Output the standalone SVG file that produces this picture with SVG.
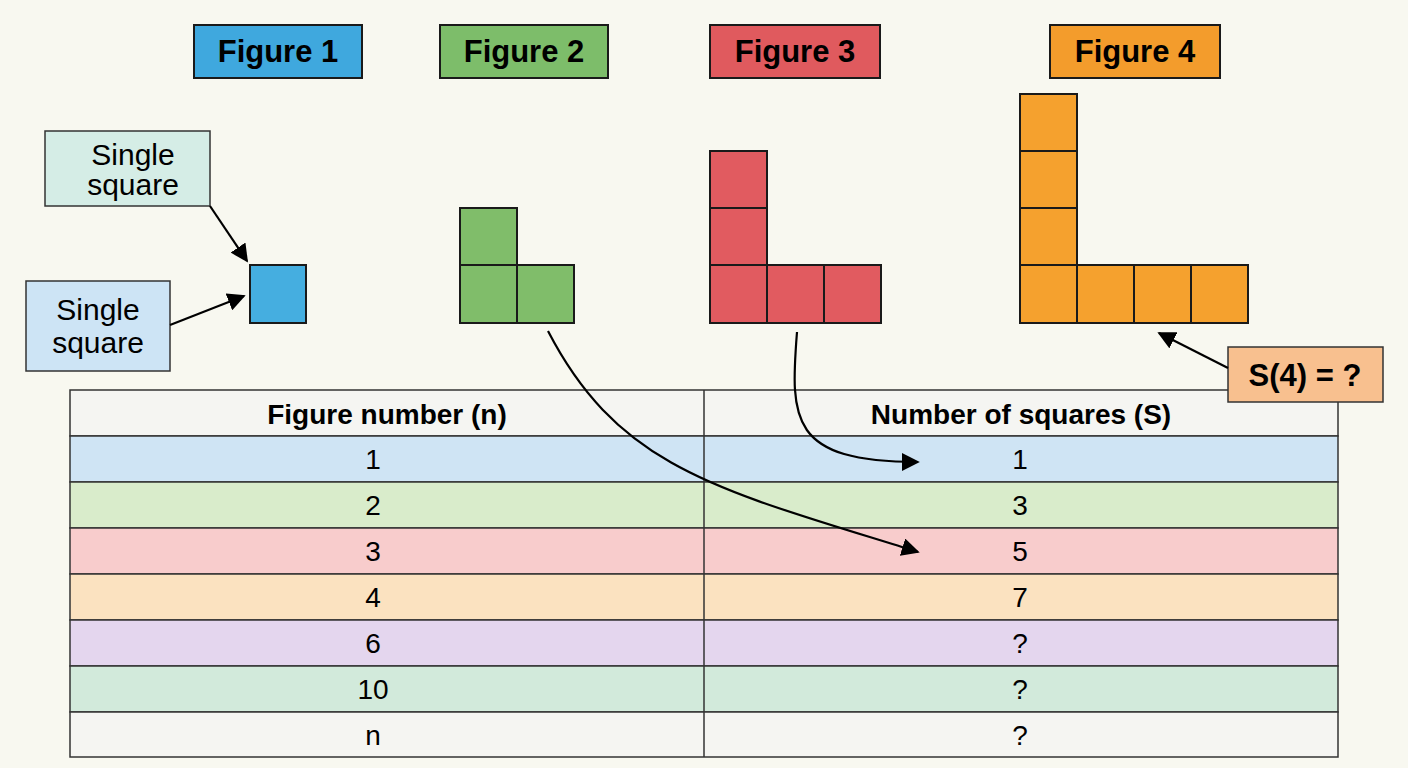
<svg xmlns="http://www.w3.org/2000/svg" width="1408" height="768" viewBox="0 0 1408 768">
<defs>
<marker id="ah2" viewBox="0 0 10 10" refX="9" refY="5" markerWidth="18" markerHeight="18" orient="auto" markerUnits="userSpaceOnUse"><path d="M0,0 L10,5 L0,10 Z" fill="#000"/></marker>
</defs>
<style>
.t{font-family:"Liberation Sans",Arial,sans-serif;fill:#000}
.lbl{font-size:31px;font-weight:bold}
.cell{stroke:#1a1a1a;stroke-width:2}
.row{stroke:#333;stroke-width:1.5}
.td{font-size:28px;text-anchor:middle}
.cn{fill:none;stroke:#000;stroke-width:2.2}
</style>
<rect width="1408" height="768" fill="#f8f8f0"/>
<g id="fig1">
<rect x="194" y="25" width="168" height="53" fill="#3fa8de" class="cell"/>
<text x="278" y="62" class="t lbl" text-anchor="middle">Figure 1</text>
<rect x="250" y="265" width="56" height="58" fill="#45aee0" class="cell"/>
</g>
<g id="fig2">
<rect x="440" y="25" width="168" height="53" fill="#7dbd6a" class="cell"/>
<text x="524" y="62" class="t lbl" text-anchor="middle">Figure 2</text>
<g fill="#80bd6a" class="cell"><rect x="460" y="208" width="57" height="57"/><rect x="460" y="265" width="57" height="58"/><rect x="517" y="265" width="57" height="58"/></g>
</g>
<g id="fig3">
<rect x="710" y="25" width="170" height="53" fill="#e05a5e" class="cell"/>
<text x="795" y="62" class="t lbl" text-anchor="middle">Figure 3</text>
<g fill="#e15b60" class="cell"><rect x="710" y="151" width="57" height="57"/><rect x="710" y="208" width="57" height="57"/><rect x="710" y="265" width="57" height="58"/><rect x="767" y="265" width="57" height="58"/><rect x="824" y="265" width="57" height="58"/></g>
</g>
<g id="fig4">
<rect x="1050" y="25" width="170" height="53" fill="#f39c2c" class="cell"/>
<text x="1135" y="62" class="t lbl" text-anchor="middle">Figure 4</text>
<g fill="#f5a12e" class="cell"><rect x="1020" y="94" width="57" height="57"/><rect x="1020" y="151" width="57" height="57"/><rect x="1020" y="208" width="57" height="57"/><rect x="1020" y="265" width="57" height="58"/><rect x="1077" y="265" width="57" height="58"/><rect x="1134" y="265" width="57" height="58"/><rect x="1191" y="265" width="57" height="58"/></g>
</g>
<g id="callout1">
<rect x="45" y="131" width="165" height="75" fill="#d5ede6" class="row"/>
<text class="t" font-size="30" text-anchor="middle"><tspan x="133" y="165">Single</tspan><tspan x="133" y="195">square</tspan></text>
</g>
<g id="callout2">
<rect x="26" y="281" width="144" height="90" fill="#cde4f5" class="row"/>
<text class="t" font-size="30" text-anchor="middle"><tspan x="98" y="320">Single</tspan><tspan x="98" y="353">square</tspan></text>
</g>
<g id="table">
<rect x="70" y="390" width="1268" height="46" fill="#f5f5f2" class="row"/>
<rect x="70" y="436" width="1268" height="46" fill="#cfe4f4" class="row"/>
<rect x="70" y="482" width="1268" height="46" fill="#d9eccb" class="row"/>
<rect x="70" y="528" width="1268" height="46" fill="#f8cccc" class="row"/>
<rect x="70" y="574" width="1268" height="46" fill="#fbe2c0" class="row"/>
<rect x="70" y="620" width="1268" height="46" fill="#e4d6ee" class="row"/>
<rect x="70" y="666" width="1268" height="46" fill="#d2eadb" class="row"/>
<rect x="70" y="712" width="1268" height="45" fill="#f5f5f2" class="row"/>
<line x1="704" y1="390" x2="704" y2="757" class="row"/>
<text x="387" y="424" class="t td" font-weight="bold" font-size="30">Figure number (n)</text>
<text x="1021" y="424" class="t td" font-weight="bold" font-size="30">Number of squares (S)</text>
<text x="373" y="469" class="t td">1</text><text x="1020" y="469" class="t td">1</text>
<text x="373" y="515" class="t td">2</text><text x="1020" y="515" class="t td">3</text>
<text x="373" y="561" class="t td">3</text><text x="1020" y="561" class="t td">5</text>
<text x="373" y="607" class="t td">4</text><text x="1020" y="607" class="t td">7</text>
<text x="373" y="653" class="t td">6</text><text x="1020" y="653" class="t td">?</text>
<text x="373" y="699" class="t td">10</text><text x="1020" y="699" class="t td">?</text>
<text x="373" y="745" class="t td">n</text><text x="1020" y="745" class="t td">?</text>
</g>
<g id="callout3">
<rect x="1228" y="347" width="155" height="55" fill="#f8c08f" class="row"/>
<text x="1305" y="386" class="t lbl" text-anchor="middle">S(4) = ?</text>
</g>
<g id="connectors">
<line x1="210" y1="206" x2="247" y2="261" class="cn" marker-end="url(#ah2)"/>
<line x1="170" y1="325" x2="244" y2="296" class="cn" marker-end="url(#ah2)"/>
<line x1="1228" y1="368" x2="1159" y2="333" class="cn" marker-end="url(#ah2)"/>
<path d="M548,331 C620,470 720,490 918,552" class="cn" marker-end="url(#ah2)"/>
<path d="M797,332 C790,420 790,462 918,462" class="cn" marker-end="url(#ah2)"/>
</g>
</svg>
